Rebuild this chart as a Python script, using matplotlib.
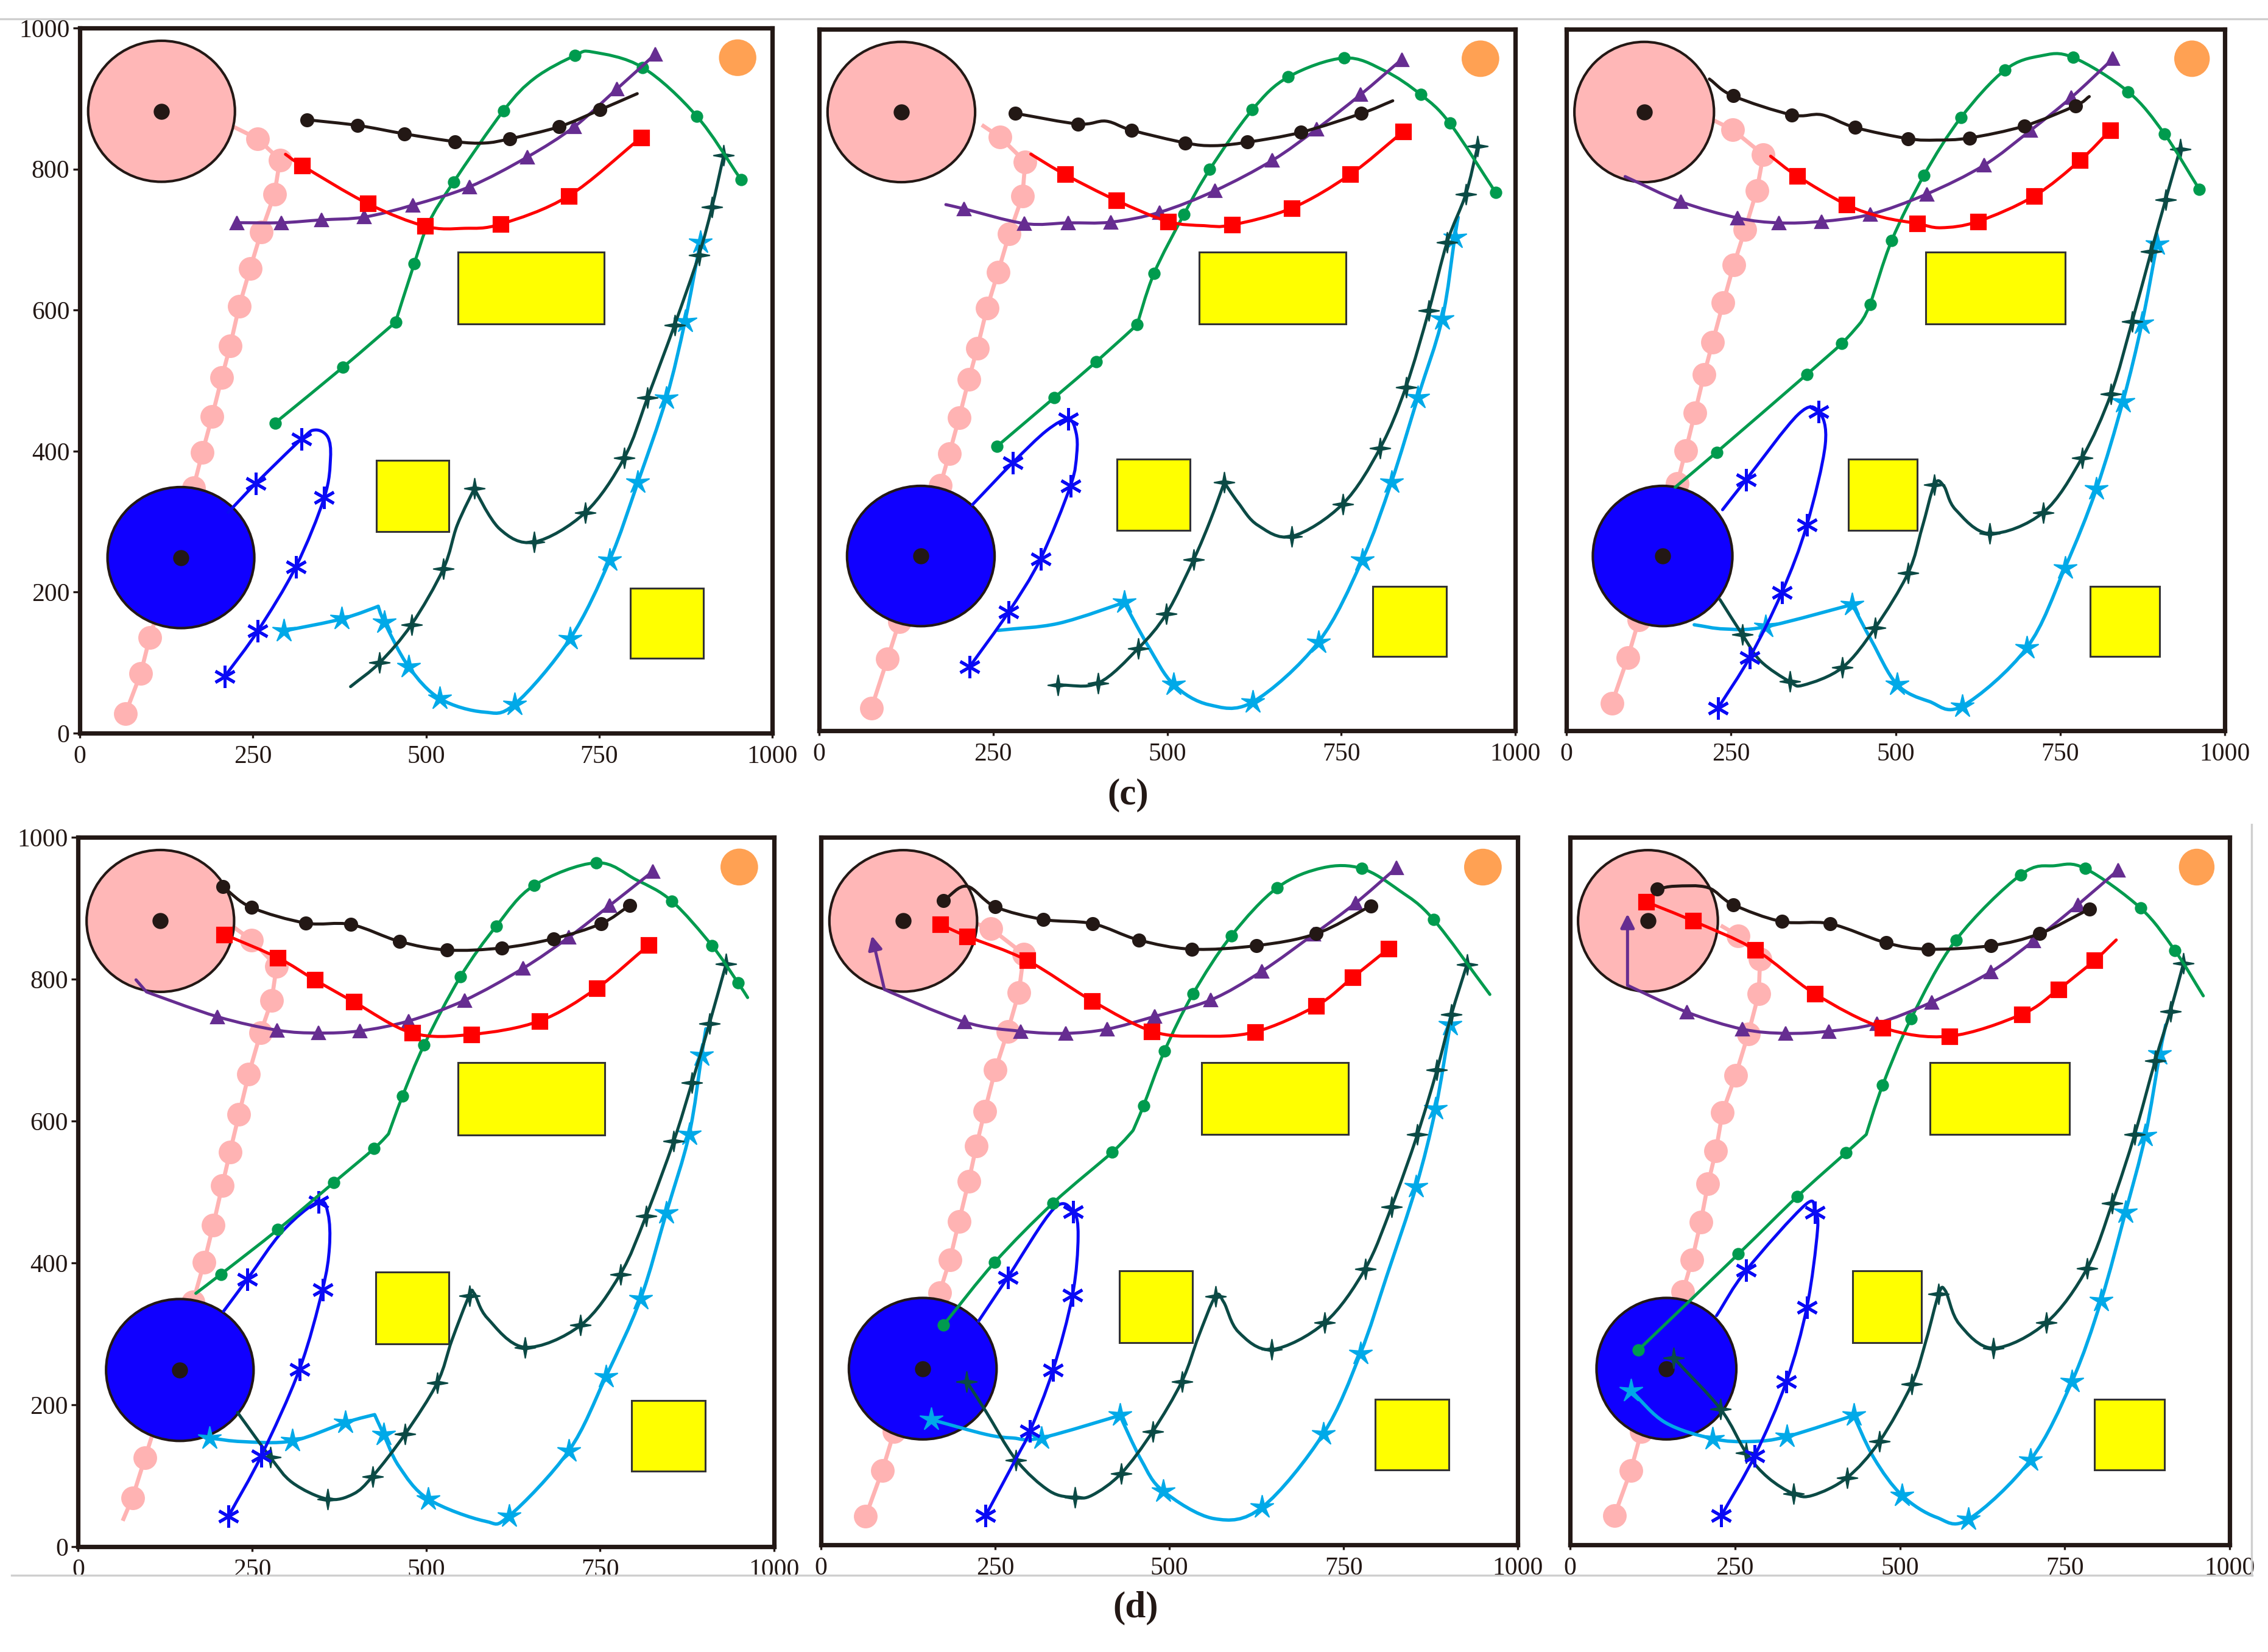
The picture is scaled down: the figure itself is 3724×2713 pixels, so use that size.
import numpy as np
import matplotlib
matplotlib.use('Agg')
import matplotlib.pyplot as plt
from matplotlib.patches import Ellipse, Rectangle, PathPatch
from matplotlib.path import Path
from matplotlib.lines import Line2D

plt.rcParams['font.family'] = ['Liberation Serif', 'DejaVu Serif']

# obstacles (shared by all six panels)
pink_obs = (118, 882)
blue_obs = (146, 249)
goal = (950, 958)
boxes = [(546, 580, 211, 102), (428, 286, 105, 101), (795, 106, 106, 100)]

x_ticks = [0, 250, 500, 750, 1000]
y_ticks = [0, 200, 400, 600, 800, 1000]

# paths: (x, y, flag)  flag 0 = plain vertex, 1 = marker, 2 = marker at a sharp corner, 3 = sharp corner without marker
c1_pink = [(66,28,1),(88,85,1),(101,136,1),(118,190,1),(134,243,1),(150,296,1),(164,348,1),(177,398,1),(191,449,1),(205,504,1),(217,549,1),(230,605,1),(246,659,1),(262,711,1),(281,764,1),(289,813,1),(257,843,1),(222,860,0)]
c1_black = [(328,870,1),(401,862,1),(469,850,1),(542,839,1),(585,837,0),(621,843,1),(692,860,1),(751,884,1),(805,907,0)]
c1_red = [(297,821,0),(321,805,1),(416,751,1),(499,719,1),(555,716,0),(608,722,1),(706,762,1),(811,845,1)]
c1_purple = [(227,724,1),(291,724,1),(349,728,1),(411,732,1),(481,749,1),(563,775,1),(646,817,1),(714,860,1),(776,914,1),(831,963,1)]
c1_green = [(282,440,1),(380,519,1),(456,583,2),(483,666,1),(504,724,0),(540,782,1),(612,883,1),(657,929,0),(715,961,1),(741,966,0),(813,944,1),(891,875,1),(955,785,1)]
c1_teal = [(391,66,0),(433,100,1),(479,154,1),(525,233,1),(545,295,0),(570,347,2),(606,290,0),(656,271,1),(730,313,1),(786,390,1),(820,476,1),(859,579,1),(894,678,1),(913,746,1),(930,820,1)]
c1_lblue = [(295,145,1),(378,162,1),(431,180,3),(440,157,1),(475,94,1),(520,49,1),(583,30,0),(628,41,1),(708,134,1),(765,245,1),(806,356,1),(847,475,1),(874,584,1),(896,696,1)]
c1_blue = [(214,313,0),(254,354,1),(320,417,1),(340,430,0),(358,420,0),(362,390,0),(353,334,1),(312,236,1),(257,145,1),(209,80,1)]

c2_pink = [(75,32,1),(98,102,1),(115,155,1),(130,205,1),(145,255,1),(160,300,1),(174,350,1),(187,395,1),(201,446,1),(215,501,1),(227,545,1),(241,602,1),(257,654,1),(273,708,1),(292,762,1),(296,811,1),(260,846,1),(236,862,0)]
c2_black = [(282,880,1),(372,865,1),(412,869,0),(449,856,1),(526,838,1),(567,834,0),(615,839,1),(692,853,1),(779,880,1),(824,898,0)]
c2_red = [(304,822,0),(353,793,1),(427,756,1),(501,726,1),(553,720,0),(593,721,1),(679,745,1),(763,793,1),(839,854,1)]
c2_purple = [(182,750,0),(208,744,1),(295,723,1),(358,724,1),(419,725,1),(489,739,1),(569,770,1),(651,813,1),(715,858,1),(778,907,1),(837,957,1)]
c2_green = [(255,405,1),(338,475,1),(398,526,1),(457,579,2),(481,652,1),(524,736,1),(561,800,1),(622,885,1),(674,932,1),(754,959,1),(812,941,0),(864,907,1),(906,866,1),(972,767,1)]
c2_teal = [(343,65,1),(401,68,1),(458,117,1),(499,167,1),(538,244,1),(562,300,0),(582,354,2),(602,325,0),(630,293,0),(679,277,1),(752,323,1),(806,403,1),(843,490,1),(876,599,1),(902,696,1),(929,765,1),(946,833,1)]
c2_lblue = [(257,143,0),(344,153,0),(438,183,2),(473,120,0),(509,66,1),(560,37,0),(623,41,1),(717,126,1),(780,243,1),(822,354,1),(860,475,1),(895,587,1),(913,703,1),(918,732,0)]
c2_blue = [(220,322,0),(278,382,1),(327,428,0),(358,444,1),(369,425,0),(370,395,0),(361,349,1),(318,245,1),(272,169,1),(216,91,1)]

c3_pink = [(69,39,1),(93,104,1),(110,158,1),(125,207,1),(140,256,1),(155,305,1),(168,352,1),(181,399,1),(195,453,1),(209,508,1),(222,554,1),(238,610,1),(254,664,1),(271,714,1),(289,770,1),(299,821,1),(252,857,1),(226,869,0)]
c3_black = [(217,929,0),(253,905,1),(342,878,1),(388,878,0),(438,860,1),(519,844,1),(562,842,0),(612,845,1),(695,862,1),(773,891,1),(794,904,0)]
c3_red = [(310,819,0),(350,791,1),(425,750,1),(480,732,0),(533,723,1),(569,717,0),(625,726,1),(710,762,1),(780,813,1),(826,856,1)]
c3_purple = [(89,790,0),(174,754,1),(260,731,1),(323,724,1),(387,726,1),(461,736,1),(547,765,1),(634,806,1),(705,856,1),(767,903,1),(830,958,1)]
c3_green = [(165,347,0),(228,397,1),(365,508,1),(418,552,1),(446,581,3),(461,608,1),(494,699,1),(543,792,1),(599,874,1),(666,942,1),(720,962,0),(769,960,1),(853,911,1),(908,851,1),(961,772,1)]
c3_teal = [(233,187,0),(267,137,1),(295,99,0),(339,70,1),(360,65,0),(419,90,1),(469,147,1),(519,225,1),(540,289,0),(559,351,1),(573,349,0),(591,315,0),(643,281,1),(724,311,1),(783,389,1),(827,480,1),(859,583,1),(888,683,1),(910,757,1),(932,829,1)]
c3_lblue = [(194,151,0),(240,145,0),(302,148,1),(434,180,2),(464,127,0),(502,66,1),(550,42,0),(601,35,1),(699,118,1),(757,232,1),(805,345,1),(845,469,1),(874,581,1),(897,694,1)]
c3_blue = [(237,315,0),(273,358,1),(352,451,0),(383,455,1),(393,408,0),(365,293,1),(327,197,1),(278,104,1),(230,32,1)]

d1_pink = [(65,39,0),(78,69,1),(96,125,1),(113,178,1),(130,232,1),(147,285,1),(165,345,1),(181,401,1),(194,453,1),(207,509,1),(218,556,1),(231,609,1),(245,666,1),(262,724,1),(278,770,1),(285,818,1),(249,855,1),(221,875,0)]
d1_black = [(208,930,1),(249,901,1),(327,879,1),(392,877,1),(462,853,1),(530,841,1),(609,844,1),(683,857,1),(751,878,1),(793,904,1)]
d1_red = [(210,863,1),(287,830,1),(340,799,1),(396,768,1),(480,724,1),(565,722,1),(663,741,1),(745,787,1),(820,848,1)]
d1_purple = [(83,799,0),(98,782,3),(200,747,1),(286,728,1),(345,724,1),(405,727,1),(475,741,1),(555,770,1),(639,815,1),(705,859,1),(764,904,1),(826,952,1)]
d1_green = [(169,357,0),(205,384,1),(287,447,1),(367,513,1),(425,561,1),(446,582,3),(466,635,1),(497,707,1),(549,803,1),(601,875,1),(655,932,1),(744,964,1),(802,940,0),(853,910,1),(911,847,1),(948,795,1),(962,774,0)]
d1_teal = [(229,189,0),(276,126,1),(308,90,0),(358,67,1),(395,74,0),(423,99,1),(470,159,1),(516,231,1),(537,291,0),(562,354,1),(569,357,0),(588,322,0),(642,281,1),(722,312,1),(779,384,1),(816,466,1),(856,572,1),(882,654,1),(907,737,1),(931,821,1)]
d1_lblue = [(189,153,1),(236,148,0),(308,149,1),(384,175,1),(426,186,3),(439,158,1),(461,113,0),(503,67,1),(584,36,0),(619,43,1),(705,135,1),(758,239,1),(808,349,1),(845,470,1),(878,581,1),(896,693,1),(902,730,0)]
d1_blue = [(209,332,0),(243,377,1),(294,445,0),(345,486,1),(359,469,0),(361,422,0),(351,362,1),(318,250,1),(263,128,1),(216,43,1)]

d2_pink = [(64,40,1),(88,105,1),(105,160,1),(122,212,1),(139,262,1),(155,310,1),(170,356,1),(185,403,1),(198,457,1),(212,514,1),(223,564,1),(235,613,1),(250,671,1),(268,726,1),(284,781,1),(291,835,1),(244,871,1),(223,878,0)]
d2_black = [(176,911,1),(209,931,0),(250,902,1),(319,884,1),(390,878,1),(456,855,1),(532,842,1),(625,847,1),(711,864,1),(789,903,1)]
d2_red = [(171,877,1),(210,860,1),(296,826,1),(389,769,1),(475,726,1),(544,719,0),(623,725,1),(711,762,1),(763,802,1),(815,843,1)]
d2_purple_arrow = [(91,785),(73,861)]
d2_purple = [(91,785,3),(206,739,1),(287,726,1),(351,723,1),(411,729,1),(479,747,1),(559,770,1),(633,811,1),(707,863,1),(767,907,1),(826,957,1)]
d2_green = [(176,311,1),(249,399,1),(333,483,1),(418,555,1),(448,586,3),(463,621,1),(493,698,1),(534,779,1),(589,861,1),(655,929,1),(720,957,0),(776,956,1),(830,925,0),(879,884,1),(960,778,0)]
d2_teal = [(209,231,1),(237,188,0),(280,120,1),(328,76,0),(364,67,1),(389,70,0),(431,101,1),(476,160,1),(518,231,1),(542,295,0),(566,351,1),(578,343,0),(599,301,0),(647,276,1),(723,314,1),(781,390,1),(819,478,1),(856,580,1),(884,671,1),(905,750,1),(927,820,1)]
d2_lblue = [(158,177,1),(237,156,0),(275,151,0),(316,151,1),(429,183,2),(460,119,0),(491,76,1),(564,37,0),(633,53,1),(721,157,1),(774,270,1),(812,380,0),(854,506,1),(882,616,1),(903,735,1)]
d2_blue = [(236,41,1),(280,122,0),(300,161,1),(333,247,1),(361,353,1),(369,436,0),(362,471,1),(334,475,0),(268,378,1),(226,316,0)]

d3_pink = [(67,41,1),(92,105,1),(108,160,1),(125,213,1),(141,264,1),(157,313,1),(171,358,1),(185,403,1),(198,456,1),(209,510,1),(221,557,1),(231,611,1),(251,664,1),(270,722,1),(286,779,1),(288,828,1),(255,861,1),(231,874,0)]
d3_black = [(132,927,1),(159,931,0),(209,929,0),(247,905,1),(321,881,1),(394,878,1),(479,851,1),(543,842,1),(638,847,1),(712,864,1),(788,899,1)]
d3_red = [(115,909,1),(186,882,1),(281,841,1),(371,779,1),(474,731,1),(575,719,1),(685,750,1),(740,785,1),(795,826,1),(828,855,0)]
d3_purple_arrow = [(87,791),(87,892)]
d3_purple = [(87,791,3),(177,753,1),(261,729,1),(327,723,1),(392,726,1),(465,737,1),(548,767,1),(638,810,1),(703,854,1),(770,905,1),(831,954,1)]
d3_green = [(103,275,1),(255,411,1),(344,492,1),(418,554,1),(449,580,3),(474,650,1),(517,744,1),(585,855,1),(683,947,1),(735,960,0),(781,956,1),(865,900,1),(917,840,1),(960,776,0)]
d3_teal = [(157,264,1),(228,192,1),(267,130,1),(300,95,0),(339,72,1),(368,70,0),(420,95,1),(469,146,1),(518,227,1),(540,290,0),(559,355,1),(569,359,0),(590,312,0),(642,278,1),(722,314,1),(784,391,1),(822,483,1),(856,580,1),(887,684,1),(910,754,1),(930,822,1)]
d3_lblue = [(92,218,1),(144,173,0),(216,150,1),(274,146,0),(329,153,1),(430,183,2),(461,122,0),(503,70,1),(555,39,0),(604,36,1),(698,120,1),(761,231,1),(805,345,1),(842,470,1),(872,578,1),(894,694,1),(903,735,0)]
d3_blue = [(229,41,1),(280,126,1),(328,231,1),(359,336,1),(375,444,0),(371,470,1),(357,481,0),(267,388,1),(222,324,0)]


def star_marker(points, inner):
    verts = []
    for k in range(2 * points):
        ang = np.pi / 2 + k * np.pi / points
        r = 1.0 if k % 2 == 0 else inner
        verts.append((r * np.cos(ang), r * np.sin(ang)))
    verts.append(verts[0])
    return Path(verts, closed=True)


INK = '#231815'
styles = {
    'black':  dict(color=INK, marker='o', ms=7.5, lw=1.8),
    'red':    dict(color='#FF0000', marker='s', ms=9, lw=1.8),
    'purple': dict(color='#662D91', marker='^', ms=8, lw=1.8),
    'green':  dict(color='#009B4E', marker='o', ms=6.5, lw=1.8),
    'teal':   dict(color='#0B4A45', marker=star_marker(4, 0.22), ms=12, lw=1.8),
    'lblue':  dict(color='#00A9E8', marker=star_marker(5, 0.3), ms=14, lw=2.0),
    'blue':   dict(color='#0A0AF5', marker=(6, 2, 0), ms=13, lw=1.8),
}

panels = [
    dict(pos=[0.0352, 0.5562, 0.3053, 0.4268], ylab=True,
         pink=c1_pink, black=c1_black, red=c1_red, purple=c1_purple, green=c1_green,
         teal=c1_teal, lblue=c1_lblue, blue=c1_blue, arrow=None),
    dict(pos=[0.3612, 0.5577, 0.3069, 0.4246], ylab=False,
         pink=c2_pink, black=c2_black, red=c2_red, purple=c2_purple, green=c2_green,
         teal=c2_teal, lblue=c2_lblue, blue=c2_blue, arrow=None),
    dict(pos=[0.6907, 0.5577, 0.2903, 0.4246], ylab=False,
         pink=c3_pink, black=c3_black, red=c3_red, purple=c3_purple, green=c3_green,
         teal=c3_teal, lblue=c3_lblue, blue=c3_blue, arrow=None),
    dict(pos=[0.0345, 0.0638, 0.3068, 0.4294], ylab=True,
         pink=d1_pink, black=d1_black, red=d1_red, purple=d1_purple, green=d1_green,
         teal=d1_teal, lblue=d1_lblue, blue=d1_blue, arrow=None),
    dict(pos=[0.3620, 0.0649, 0.3072, 0.4282], ylab=False,
         pink=d2_pink, black=d2_black, red=d2_red, purple=d2_purple, green=d2_green,
         teal=d2_teal, lblue=d2_lblue, blue=d2_blue, arrow=d2_purple_arrow),
    dict(pos=[0.6923, 0.0649, 0.2908, 0.4282], ylab=False,
         pink=d3_pink, black=d3_black, red=d3_red, purple=d3_purple, green=d3_green,
         teal=d3_teal, lblue=d3_lblue, blue=d3_blue, arrow=d3_purple_arrow),
]


def smooth_line(ax, pts, color, lw, z):
    # piecewise cubic curve through the read points; flagged corners stay sharp
    P = np.array([(p[0], p[1]) for p in pts], float)
    n = len(P)
    T = np.zeros_like(P)
    for i in range(n):
        if pts[i][2] >= 2:
            continue
        if i == 0:
            T[i] = P[1] - P[0]
        elif i == n - 1:
            T[i] = P[-1] - P[-2]
        else:
            T[i] = (P[i + 1] - P[i - 1]) / 2
    verts = [P[0]]
    codes = [Path.MOVETO]
    for i in range(n - 1):
        verts += [P[i] + T[i] / 3, P[i + 1] - T[i + 1] / 3, P[i + 1]]
        codes += [Path.CURVE4] * 3
    ax.add_patch(PathPatch(Path(verts, codes), fill=False, edgecolor=color, lw=lw,
                           zorder=z, capstyle='round', joinstyle='round'))


def draw_markers(ax, pts, color, marker, ms, z, mew=1.0):
    xs = [p[0] for p in pts if p[2] in (1, 2)]
    ys = [p[1] for p in pts if p[2] in (1, 2)]
    ax.plot(xs, ys, ls='none', marker=marker, ms=ms, color=color, mec=color,
            mew=mew, zorder=z + 0.05)


fig = plt.figure(figsize=(18.62, 13.565), dpi=200)

for p in panels:
    ax = fig.add_axes(p['pos'])
    ax.set_xlim(0, 1000)
    ax.set_ylim(0, 1000)
    for s in ax.spines.values():
        s.set_linewidth(2.6)
        s.set_color(INK)
        s.set_zorder(10)
    ax.set_xticks(x_ticks)
    ax.set_xticklabels([str(v) for v in x_ticks], fontsize=15, color=INK)
    ax.tick_params(axis='x', length=3, width=1.2, color=INK, pad=4)
    if p['ylab']:
        ax.set_yticks(y_ticks)
        ax.set_yticklabels([str(v) for v in y_ticks], fontsize=15, color=INK)
        ax.tick_params(axis='y', length=4, width=1.2, color=INK, pad=2)
    else:
        ax.set_yticks([])

    # pink path sits under the obstacles and is made of straight runs
    pk = p['pink']
    ax.plot([q[0] for q in pk], [q[1] for q in pk], color='#FFB3B3', lw=2.4, zorder=2,
            marker='o', ms=13, markevery=[i for i, q in enumerate(pk) if q[2]])

    ax.add_patch(Ellipse(pink_obs, 212, 200, facecolor='#FFB7B7', edgecolor=INK, lw=1.5, zorder=3))
    ax.add_patch(Ellipse(blue_obs, 212, 200, facecolor='#1000FF', edgecolor=INK, lw=1.5, zorder=3))
    ax.add_patch(Ellipse(goal, 54, 52, facecolor='#FFA153', edgecolor='none', zorder=3))
    for bx, by, bw, bh in boxes:
        ax.add_patch(Rectangle((bx, by), bw, bh, facecolor='#FFFF00', edgecolor='#333333', lw=1.1, zorder=3))
    ax.plot([pink_obs[0], blue_obs[0]], [pink_obs[1], blue_obs[1]], ls='none',
            marker='o', ms=8.5, color=INK, zorder=3.5)

    z = 4
    for key in ['lblue', 'teal', 'blue', 'green', 'purple', 'red', 'black']:
        st = styles[key]
        smooth_line(ax, p[key], st['color'], st['lw'], z)
        draw_markers(ax, p[key], st['color'], st['marker'], st['ms'], z,
                     mew=1.8 if key == 'blue' else 0.8)
        z += 0.1
    if p['arrow'] is not None:
        (x0, y0), (x1, y1) = p['arrow']
        ax.annotate('', xy=(x1, y1), xytext=(x0, y0),
                    arrowprops=dict(arrowstyle='-|>', color=styles['purple']['color'],
                                    lw=1.8, mutation_scale=17, shrinkA=0, shrinkB=0),
                    zorder=5)

# panel labels
fig.text(0.4974, 0.5186, '(c)', ha='center', va='center',
         fontsize=22, fontweight='bold', color=INK)
fig.text(0.5006, 0.0265, '(d)', ha='center', va='center',
         fontsize=22, fontweight='bold', color=INK)

# faint page-crop lines from the source scan
fig.add_artist(Line2D([0.0, 1.0], [0.9886, 0.9886], color='#CFCFCF', lw=1.2))
fig.add_artist(Line2D([0.005, 0.993], [0.0464, 0.0464], color='#CFCFCF', lw=1.2))
fig.add_artist(Line2D([0.9928, 0.9928], [0.0464, 0.5009], color='#CFCFCF', lw=1.2))

fig.savefig('out.png', dpi=200, facecolor='white')
